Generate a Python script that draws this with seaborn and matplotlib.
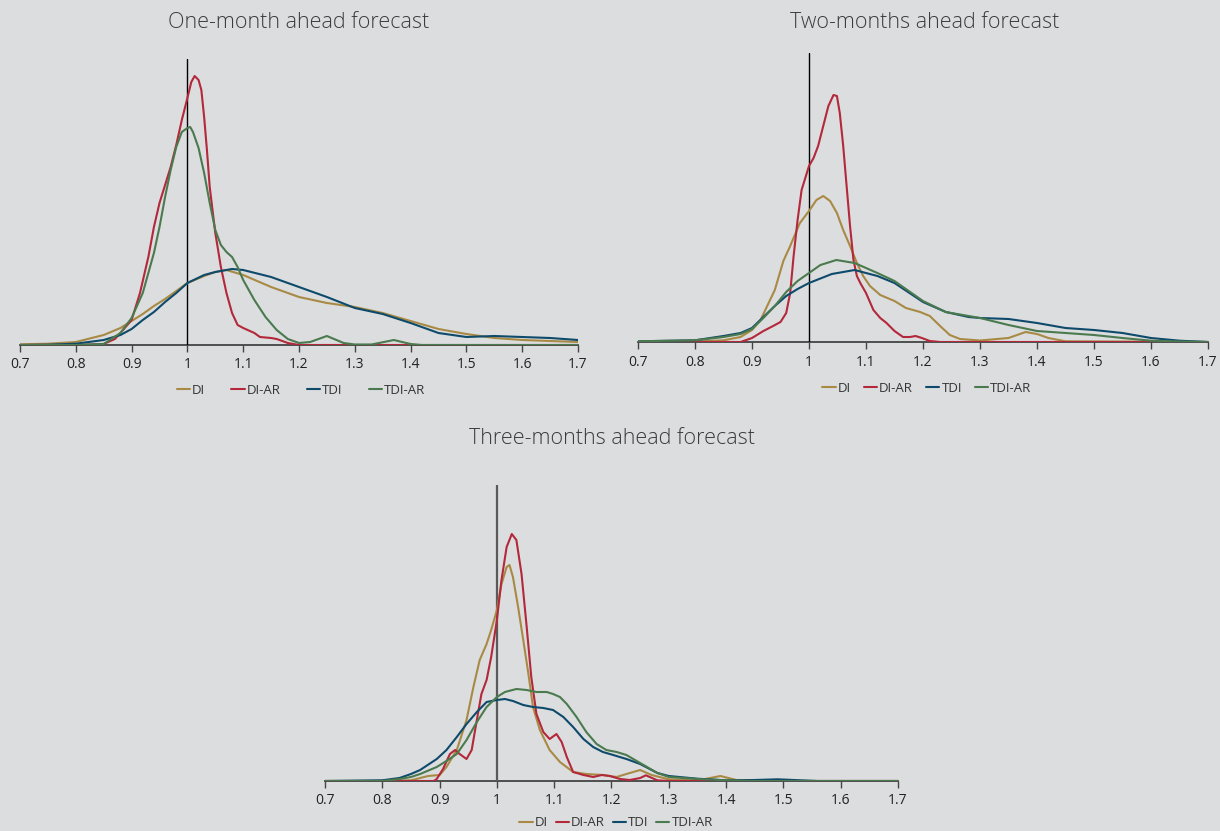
import pandas as pd
import matplotlib
matplotlib.use("Agg")
import matplotlib.pyplot as plt
from matplotlib.lines import Line2D
import seaborn as sns

# series names and colours
series_names = ["DI", "DI-AR", "TDI", "TDI-AR"]
series_colors = ["#a88a45", "#b3283a", "#0e4a6b", "#4a7a4e"]

tick_values = [0.7, 0.8, 0.9, 1.0, 1.1, 1.2, 1.3, 1.4, 1.5, 1.6, 1.7]
tick_labels = ["0.7", "0.8", "0.9", "1", "1.1", "1.2", "1.3", "1.4", "1.5", "1.6", "1.7"]

# ---- One-month ahead (density, arbitrary units)
m1_di_x = [0.70, 0.75, 0.80, 0.85, 0.88, 0.90, 0.92, 0.94, 0.96, 0.98, 1.00, 1.03, 1.05, 1.07, 1.10,
           1.15, 1.20, 1.25, 1.30, 1.35, 1.40, 1.45, 1.50, 1.55, 1.60, 1.65, 1.70]
m1_di_y = [0.7, 1.3, 3, 10, 17, 24, 31, 39, 46, 54, 62, 69, 73, 75, 70,
           58, 48, 42, 38, 32, 24, 16, 11, 7, 5, 4, 3]
m1_diar_x = [0.70, 0.80, 0.85, 0.87, 0.88, 0.90, 0.915, 0.93, 0.94, 0.95, 0.96, 0.97, 0.98, 0.99, 1.00,
             1.007, 1.013, 1.02, 1.025, 1.03, 1.035, 1.04, 1.05, 1.06, 1.07, 1.08, 1.09, 1.10, 1.12,
             1.13, 1.15, 1.16, 1.18, 1.20, 1.70]
m1_diar_y = [0, 0, 1, 6, 12, 25, 52, 88, 118, 142, 160, 178, 200, 225, 247,
             263, 269, 265, 255, 228, 195, 158, 112, 78, 52, 32, 20, 17, 12,
             8, 7, 6, 2, 0, 0]
m1_tdi_x = [0.70, 0.75, 0.80, 0.85, 0.88, 0.90, 0.92, 0.94, 0.96, 0.98, 1.00, 1.03, 1.05, 1.08, 1.10,
            1.15, 1.20, 1.25, 1.30, 1.35, 1.40, 1.45, 1.50, 1.55, 1.60, 1.65, 1.70]
m1_tdi_y = [0, 0.3, 1.3, 5, 10, 16, 25, 33, 43, 52, 62, 70, 73, 76, 75,
            68, 58, 48, 37, 31, 22, 12, 8, 9, 8, 7, 5]
m1_tdiar_x = [0.70, 0.80, 0.85, 0.88, 0.90, 0.92, 0.94, 0.95, 0.96, 0.97, 0.98, 0.99, 1.00, 1.005,
              1.01, 1.02, 1.03, 1.04, 1.05, 1.06, 1.07, 1.08, 1.09, 1.10, 1.12, 1.14, 1.16, 1.18,
              1.20, 1.22, 1.25, 1.28, 1.30, 1.33, 1.37, 1.40, 1.42, 1.70]
m1_tdiar_y = [0, 0, 1, 12, 27, 52, 92, 118, 148, 175, 198, 213, 217, 218,
              213, 197, 172, 142, 115, 100, 93, 88, 78, 65, 45, 28, 15, 6,
              2, 3, 9, 2, 0.5, 0.5, 5, 1, 0, 0]

# ---- Two-months ahead
m2_di_x = [0.70, 0.80, 0.85, 0.88, 0.90, 0.915, 0.94, 0.955, 0.967, 0.984, 1.00, 1.013, 1.025, 1.037,
           1.049, 1.06, 1.072, 1.084, 1.095, 1.107, 1.125, 1.15, 1.17, 1.195, 1.212, 1.23, 1.247,
           1.265, 1.30, 1.35, 1.38, 1.40, 1.42, 1.45, 1.70]
m2_di_y = [0, 0.5, 1.7, 5, 12, 22, 52, 81, 96, 119, 131, 142, 146, 141,
           129, 112, 96, 79, 66, 56, 47, 41, 34, 30, 26, 16, 7,
           3, 1.5, 4, 10, 8, 4, 0.7, 0]
m2_diar_x = [0.70, 0.88, 0.90, 0.92, 0.937, 0.95, 0.96, 0.967, 0.973, 0.98, 0.987, 1.00, 1.008, 1.016,
             1.025, 1.034, 1.043, 1.049, 1.054, 1.06, 1.066, 1.072, 1.078, 1.084, 1.09, 1.10, 1.113,
             1.125, 1.136, 1.15, 1.165, 1.177, 1.187, 1.198, 1.212, 1.23, 1.70]
m2_diar_y = [0, 0, 4, 11, 16, 20, 29, 49, 86, 122, 152, 176, 184, 196,
             216, 236, 247, 246, 229, 196, 156, 116, 82, 66, 59, 49, 32,
             24, 19, 11, 5, 5, 6, 4, 1, 0, 0]
m2_tdi_x = [0.70, 0.80, 0.85, 0.88, 0.90, 0.92, 0.94, 0.96, 0.98, 1.00, 1.04, 1.08, 1.12, 1.15, 1.20,
            1.24, 1.28, 1.30, 1.35, 1.40, 1.45, 1.50, 1.55, 1.60, 1.65, 1.70]
m2_tdi_y = [0.7, 1.7, 6, 9, 14, 25, 36, 46, 53, 59, 68, 72, 66, 59, 40,
            30, 25, 24, 23, 19, 14, 12, 9, 4, 1.3, 0]
m2_tdiar_x = [0.70, 0.80, 0.85, 0.88, 0.90, 0.92, 0.94, 0.96, 0.98, 1.00, 1.02, 1.048, 1.08, 1.12,
              1.15, 1.20, 1.24, 1.28, 1.30, 1.35, 1.40, 1.45, 1.50, 1.55, 1.60, 1.65, 1.70]
m2_tdiar_y = [0.7, 1.7, 5, 8, 13, 24, 36, 50, 61, 69, 77, 82, 79, 69,
              61, 41, 30, 26, 24, 17, 11, 9, 7, 4, 1.3, 0.5, 0]

# ---- Three-months ahead
m3_di_x = [0.70, 0.80, 0.85, 0.88, 0.90, 0.912, 0.93, 0.947, 0.959, 0.97, 0.982, 0.99, 1.00, 1.008,
           1.017, 1.022, 1.028, 1.037, 1.046, 1.055, 1.063, 1.075, 1.092, 1.11, 1.133, 1.156, 1.185,
           1.209, 1.226, 1.25, 1.27, 1.30, 1.35, 1.39, 1.42, 1.45, 1.70]
m3_di_y = [0, 0, 0.7, 5, 6, 14, 31, 61, 94, 121, 137, 151, 171, 197,
           214, 216, 204, 174, 141, 107, 74, 51, 31, 19, 9, 7, 6,
           4, 7, 11, 6, 1.7, 0.5, 5, 0.7, 0, 0]
m3_diar_x = [0.70, 0.89, 0.895, 0.906, 0.918, 0.927, 0.935, 0.947, 0.956, 0.965, 0.973, 0.982, 0.99,
             1.00, 1.008, 1.017, 1.026, 1.034, 1.043, 1.052, 1.06, 1.069, 1.081, 1.092, 1.104, 1.113,
             1.122, 1.133, 1.151, 1.168, 1.183, 1.197, 1.215, 1.232, 1.25, 1.26, 1.28, 1.30, 1.70]
m3_diar_y = [0, 0, 2, 12, 27, 31, 27, 22, 31, 61, 87, 101, 124,
             161, 201, 234, 247, 241, 207, 154, 104, 67, 49, 42, 47, 39,
             24, 9, 6, 4, 6, 5, 2, 1, 3, 5.7, 0.7, 0, 0]
m3_tdi_x = [0.70, 0.80, 0.83, 0.85, 0.866, 0.895, 0.912, 0.93, 0.947, 0.965, 0.982, 1.00, 1.014, 1.028,
            1.046, 1.063, 1.081, 1.098, 1.116, 1.133, 1.151, 1.168, 1.185, 1.203, 1.226, 1.25, 1.28,
            1.30, 1.35, 1.40, 1.45, 1.49, 1.53, 1.56, 1.70]
m3_tdi_y = [0, 0.7, 3, 7, 11, 22, 31, 44, 57, 69, 79, 81, 82, 80,
            76, 74, 73, 71, 64, 54, 42, 34, 29, 26, 22, 17, 8,
            5, 2.3, 0.7, 1, 1.7, 0.7, 0, 0]
m3_tdiar_x = [0.70, 0.80, 0.83, 0.85, 0.866, 0.895, 0.912, 0.93, 0.947, 0.965, 0.982, 1.00, 1.014,
              1.034, 1.052, 1.069, 1.087, 1.098, 1.11, 1.122, 1.139, 1.156, 1.174, 1.191, 1.209,
              1.226, 1.25, 1.28, 1.30, 1.35, 1.40, 1.45, 1.70]
m3_tdiar_y = [0, 0, 2, 4, 7, 14, 20, 27, 41, 59, 74, 84, 89,
              92, 91, 89, 89, 87, 84, 77, 64, 49, 37, 31, 29,
              26, 18, 8, 4, 2, 0.7, 0, 0]

panel_titles = ["One-month ahead forecast", "Two-months ahead forecast", "Three-months ahead forecast"]
panel_data = [
    [(m1_di_x, m1_di_y), (m1_diar_x, m1_diar_y), (m1_tdi_x, m1_tdi_y), (m1_tdiar_x, m1_tdiar_y)],
    [(m2_di_x, m2_di_y), (m2_diar_x, m2_diar_y), (m2_tdi_x, m2_tdi_y), (m2_tdiar_x, m2_tdiar_y)],
    [(m3_di_x, m3_di_y), (m3_diar_x, m3_diar_y), (m3_tdi_x, m3_tdi_y), (m3_tdiar_x, m3_tdiar_y)],
]
panel_ytop = [286, 289, 296]

bg = "#dcdddf"
sns.set_theme(style="white")
plt.rcParams["font.family"] = ["Open Sans", "DejaVu Sans"]
plt.rcParams["lines.solid_joinstyle"] = "round"

W, H = 1220, 831
fig = plt.figure(figsize=(W / 100, H / 100), dpi=100, facecolor=bg)

# axes boxes in pixels: left, right, top, baseline
boxes = [(20, 578, 59, 345), (638, 1208, 53, 342), (325, 898, 485, 781)]
title_pos = [(299, 23), (925, 22), (612, 439)]
legend_pos = [(301, 390), (927, 388), (616, 823)]
col_space = [2.0, 1.0, 0.6]
vline_style = [("black", 1.0), ("black", 1.0), ("#5a5a5a", 1.6)]
palette = dict(zip(series_names, series_colors))

for i in range(3):
    l, r, t, b = boxes[i]
    ax = fig.add_axes([l / W, 1 - b / H, (r - l) / W, (b - t) / H])
    ax.set_facecolor(bg)

    frames = []
    for name, (xs, ys) in zip(series_names, panel_data[i]):
        frames.append(pd.DataFrame({"x": xs, "density": ys, "series": name}))
    df = pd.concat(frames, ignore_index=True)

    sns.lineplot(data=df, x="x", y="density", hue="series", hue_order=series_names,
                 palette=palette, estimator=None, linewidth=1.5, legend=False, ax=ax)

    vc, vw = vline_style[i]
    ax.axvline(1.0, ymin=0, ymax=1, color=vc, linewidth=vw, zorder=1)

    ax.set_xlim(0.7, 1.7)
    ax.set_ylim(0, panel_ytop[i])
    ax.set_xticks(tick_values)
    ax.set_xticklabels(tick_labels)
    ax.set_yticks([])
    ax.set_xlabel("")
    ax.set_ylabel("")
    for s in ["top", "left", "right"]:
        ax.spines[s].set_visible(False)
    ax.spines["bottom"].set_color("#444444")
    ax.spines["bottom"].set_linewidth(1.3)
    ax.spines["bottom"].set_zorder(0)
    ax.tick_params(axis="x", direction="out", length=5, width=1, color="#444444",
                   labelsize=10, labelcolor="#222222", pad=4, bottom=True)

    tx, ty = title_pos[i]
    fig.text(tx / W, 1 - ty / H, panel_titles[i], ha="center", va="center",
             fontsize=15.5, color="#3c3c3c", fontweight="light")

    handles = [Line2D([0], [0], color=c, linewidth=1.5) for c in series_colors]
    lx, ly = legend_pos[i]
    ax.legend(handles, series_names, loc="center", bbox_to_anchor=(lx / W, 1 - ly / H),
              bbox_transform=fig.transFigure, ncol=4, frameon=False, fontsize=9.5,
              handlelength=1.0, handletextpad=0.15, columnspacing=col_space[i],
              labelcolor="#333333")

fig.savefig("out.png", dpi=100, facecolor=bg)
